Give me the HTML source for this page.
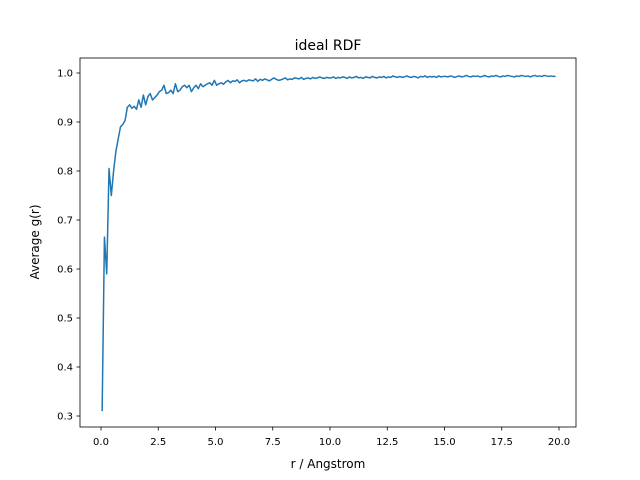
<!DOCTYPE html>
<html><head><meta charset="utf-8"><style>
body{margin:0;background:#fff;}
svg{display:block;font-family:"DejaVu Sans","Liberation Sans",sans-serif;}
</style></head><body>
<svg id="chart" width="640" height="480">
<rect width="640" height="480" fill="#fff"/>
<text x="328" y="50" text-anchor="middle" font-size="14">ideal RDF</text>
<g id="xticks"></g>
<g id="yticks"></g>
<path id="line" fill="none" stroke="#1f77b4" stroke-width="1.5" stroke-linejoin="round"/>
<rect x="80" y="58" width="496" height="369" fill="none" stroke="#000" stroke-width="0.8"/>
<text x="328" y="468" text-anchor="middle" font-size="12">r / Angstrom</text>
<text transform="translate(39,242) rotate(-90)" text-anchor="middle" font-size="12">Average g(r)</text>
</svg>
<script>
const rStart = 0.05, rStep = 0.1;
const gValues = [0.31,0.665,0.59,0.805,0.75,0.80,0.84,0.865,0.89,0.895,
0.903,0.93,0.935,0.928,0.932,0.926,0.945,0.93,0.955,0.935,
0.952,0.958,0.945,0.95,0.955,0.962,0.965,0.975,0.958,0.96,
0.965,0.958,0.978,0.962,0.965,0.972,0.975,0.97,0.975,0.962,
0.97,0.975,0.968,0.978,0.972,0.975,0.978,0.98,0.975,0.985,
0.975,0.978,0.98,0.977,0.982,0.985,0.98,0.984,0.983,0.986,
0.98,0.984,0.985,0.983,0.986,0.985,0.984,0.988,0.983,0.987,
0.985,0.988,0.986,0.984,0.987,0.99,0.987,0.985,0.986,0.988,
0.99,0.986,0.988,0.987,0.99,0.989,0.988,0.991,0.987,0.989,
0.99,0.988,0.991,0.989,0.99,0.992,0.99,0.989,0.991,0.99,
0.99,0.992,0.989,0.991,0.99,0.992,0.991,0.989,0.992,0.99,
0.991,0.993,0.99,0.991,0.989,0.992,0.991,0.99,0.993,0.991,
0.99,0.992,0.991,0.993,0.99,0.992,0.991,0.994,0.992,0.991,
0.993,0.991,0.992,0.994,0.992,0.991,0.993,0.992,0.99,0.993,
0.992,0.994,0.991,0.993,0.992,0.993,0.991,0.994,0.992,0.993,
0.993,0.992,0.994,0.993,0.991,0.993,0.994,0.992,0.993,0.995,
0.993,0.992,0.994,0.993,0.994,0.992,0.993,0.995,0.993,0.992,
0.994,0.993,0.995,0.993,0.992,0.994,0.993,0.995,0.994,0.993,
0.992,0.994,0.993,0.995,0.994,0.993,0.994,0.992,0.994,0.995,
0.993,0.994,0.993,0.995,0.994,0.993,0.994,0.993,0.993];
const xTickLabels = ["0.0","2.5","5.0","7.5","10.0","12.5","15.0","17.5","20.0"];
const yTickLabels = ["0.3","0.4","0.5","0.6","0.7","0.8","0.9","1.0"];
const NS="http://www.w3.org/2000/svg";
function xs(v){return 101+v*22.9;}
function ys(v){return 73+(1.0-v)*490;}
let d="";
gValues.forEach((g,i)=>{const r=rStart+i*rStep;d+=(i?"L":"M")+xs(r).toFixed(2)+","+ys(g).toFixed(2);});
document.getElementById("line").setAttribute("d",d);
const xg=document.getElementById("xticks");
xTickLabels.forEach(t=>{const x=xs(parseFloat(t));
const l=document.createElementNS(NS,"line");
l.setAttribute("x1",x);l.setAttribute("x2",x);l.setAttribute("y1",427);l.setAttribute("y2",430.5);l.setAttribute("stroke","#000");l.setAttribute("stroke-width","0.8");


xg.appendChild(l);
const tx=document.createElementNS(NS,"text");
tx.setAttribute("x",x);tx.setAttribute("y",445);tx.setAttribute("text-anchor","middle");tx.setAttribute("font-size","10");tx.textContent=t;


xg.appendChild(tx);});
const yg=document.getElementById("yticks");
yTickLabels.forEach(t=>{const y=ys(parseFloat(t));
const l=document.createElementNS(NS,"line");
l.setAttribute("x1",76.5);l.setAttribute("x2",80);l.setAttribute("y1",y);l.setAttribute("y2",y);l.setAttribute("stroke","#000");l.setAttribute("stroke-width","0.8");


yg.appendChild(l);
const tx=document.createElementNS(NS,"text");
tx.setAttribute("x",73);tx.setAttribute("y",y+3.5);tx.setAttribute("text-anchor","end");tx.setAttribute("font-size","10");tx.textContent=t;


yg.appendChild(tx);});
</script>
</body></html>
